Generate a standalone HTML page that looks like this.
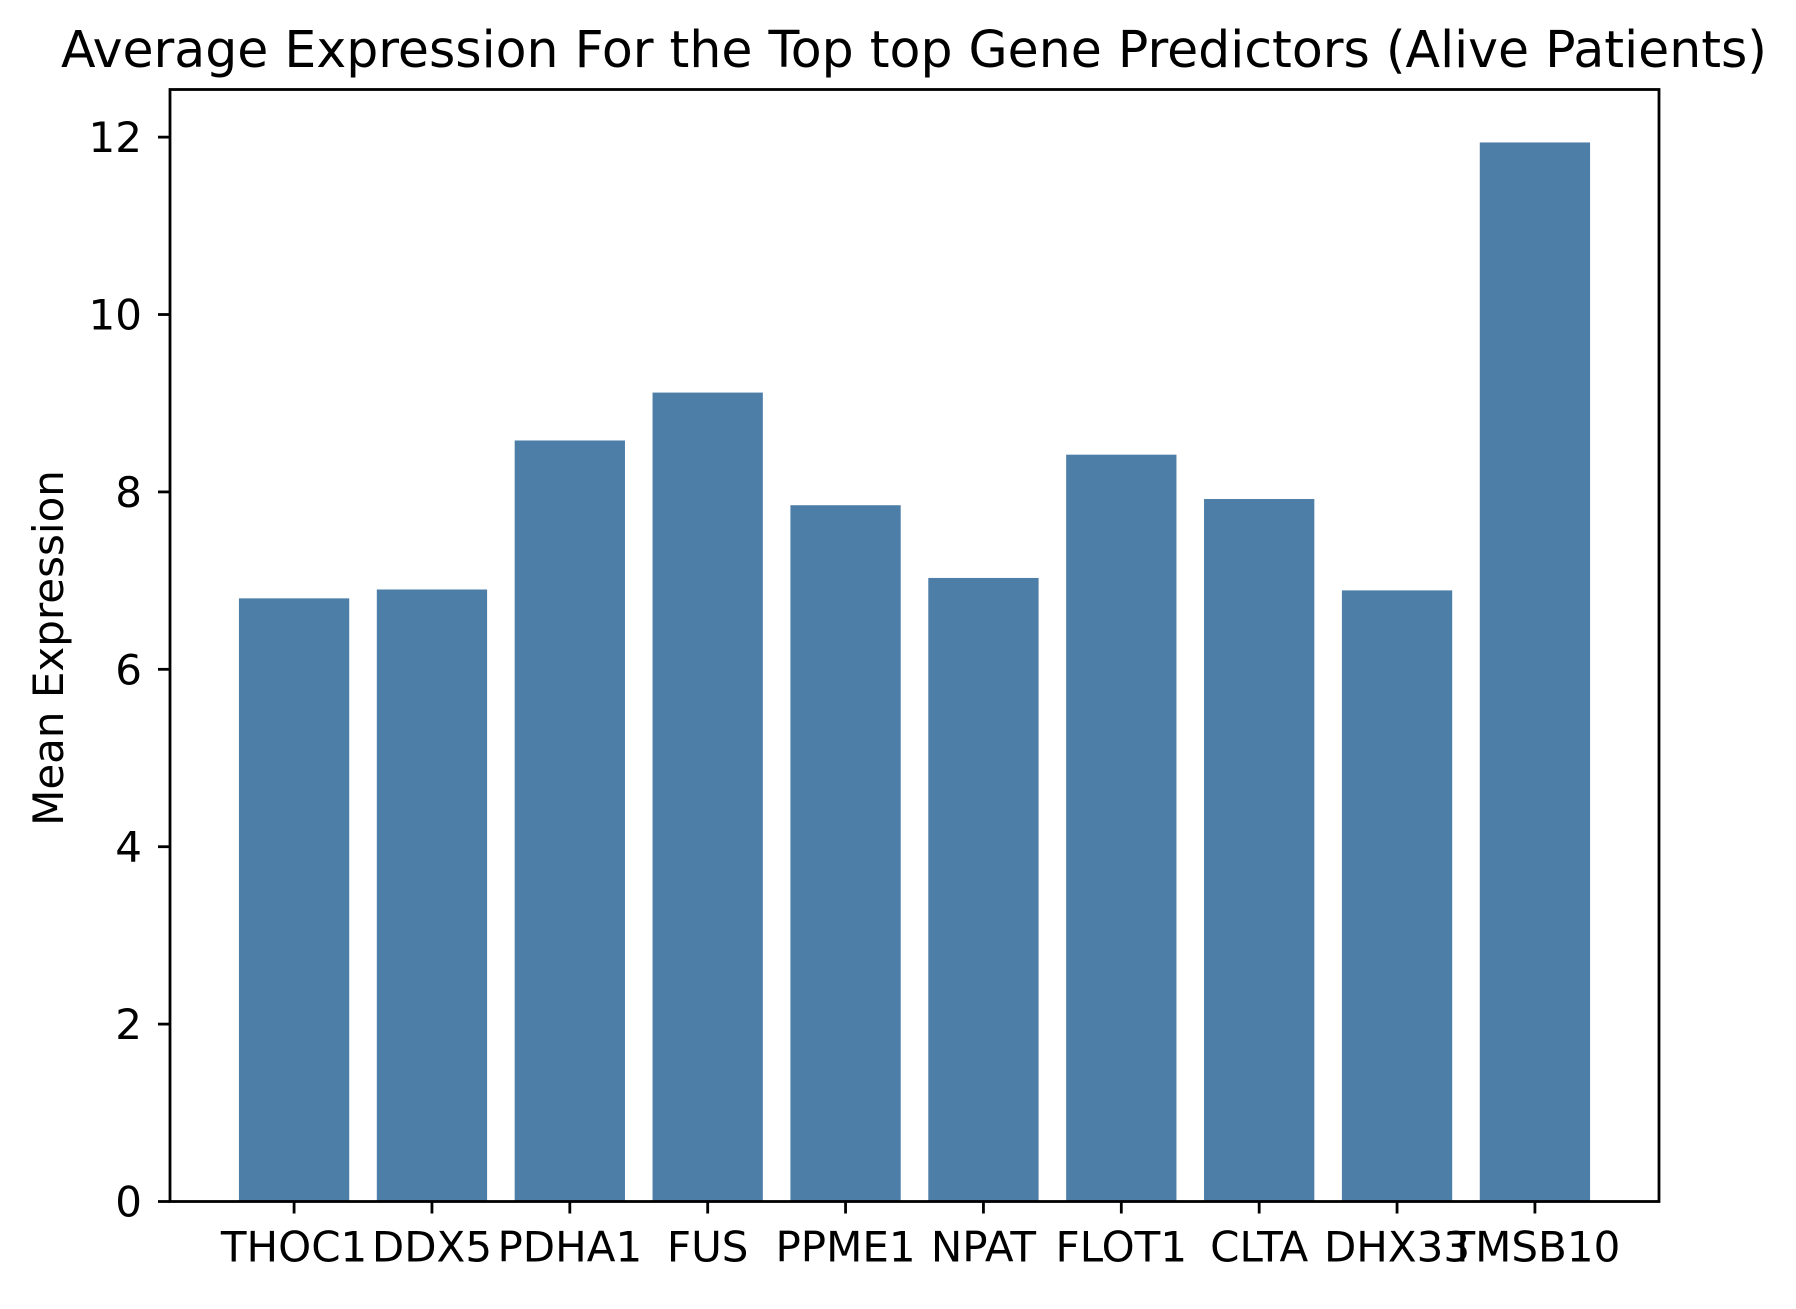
<!DOCTYPE html>
<html><head><meta charset="utf-8"><style>
html,body{margin:0;padding:0;background:#fff;}
svg text{font-family:"DejaVu Sans","Liberation Sans",sans-serif;fill:#000;}
</style></head><body>
<svg id="chart" width="1796" height="1304" xmlns="http://www.w3.org/2000/svg">
<rect width="1796" height="1304" fill="#fff"/>
<text x="914" y="67" font-size="50.5" text-anchor="middle">Average Expression For the Top top Gene Predictors (Alive Patients)</text>
<text transform="translate(63,648) rotate(-90)" font-size="42" text-anchor="middle">Mean Expression</text>
<g id="bars"></g>
<g id="axes"></g>
</svg>
<script>
const categories = ["THOC1","DDX5","PDHA1","FUS","PPME1","NPAT","FLOT1","CLTA","DHX33","TMSB10"];
const values = [6.8, 6.9, 8.58, 9.12, 7.85, 7.03, 8.42, 7.92, 6.89, 11.94];
const yTicks = [0, 2, 4, 6, 8, 10, 12];

const L = 170, R = 1659, T = 89.5, B = 1201.5;
const ymax = Math.max(...values) * 1.05;
const xmin = -0.9, xmax = categories.length - 1 + 0.9;
const xs = i => L + (i - xmin) / (xmax - xmin) * (R - L);
const ys = v => B - v / ymax * (B - T);
const ns = "http://www.w3.org/2000/svg";
function mk(tag, attrs, parent){const e=document.createElementNS(ns,tag);for(const k in attrs)e.setAttribute(k,attrs[k]);parent.appendChild(e);return e;}
const bars = document.getElementById('bars'), axes = document.getElementById('axes');
const bw = (xs(0.4) - xs(-0.4));
values.forEach((v,i)=>{
  const r = mk('rect',{x:xs(i)-bw/2,y:ys(v),width:bw,height:B-ys(v),fill:'#4c7ea8'},bars);
  
  
});
const frame = mk('rect',{x:L,y:T,width:R-L,height:B-T,fill:'none',stroke:'#000','stroke-width':2.8},axes);


categories.forEach((c,i)=>{
  mk('line',{x1:xs(i),x2:xs(i),y1:B,y2:B+12,stroke:'#000','stroke-width':2.8},axes);
  const t = mk('text',{x:xs(i),y:B+60,'font-size':42,'text-anchor':'middle'},axes);
  t.textContent = c;
  
  
});
yTicks.forEach(v=>{
  mk('line',{x1:L-12,x2:L,y1:ys(v),y2:ys(v),stroke:'#000','stroke-width':2.8},axes);
  const t = mk('text',{x:L-28,y:ys(v)+15,'font-size':42,'text-anchor':'end'},axes);
  t.textContent = v;
  
  
});
</script>
</body></html>
